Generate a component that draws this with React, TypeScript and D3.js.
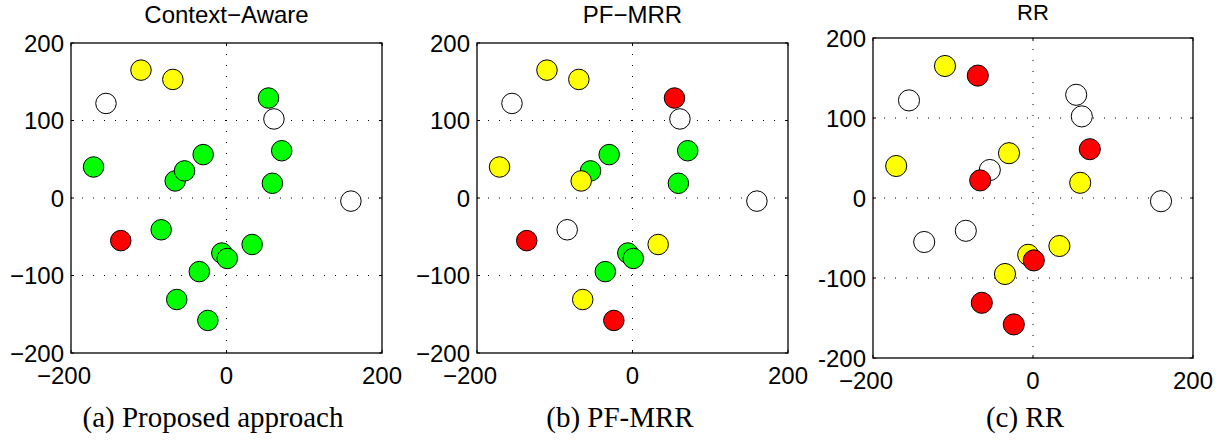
import React from 'react';
import * as d3 from 'd3';

// node positions (shared by all three panels)
const xs = [-110, -69, -155, 54, 61, 71, -30, -66, -54, -171, 59, 160, -84, -136, 33, -6, 1, -35, -64, -24];
const ys = [165, 153, 122, 129, 102, 61, 56, 22, 35, 40, 19, -4, -41, -55, -60, -71, -78, -95, -131, -158];

// colour class per node: W = white, G = green, Y = yellow, R = red
const classesA = ['Y', 'Y', 'W', 'G', 'W', 'G', 'G', 'G', 'G', 'G', 'G', 'W', 'G', 'R', 'G', 'G', 'G', 'G', 'G', 'G'];
const classesB = ['Y', 'Y', 'W', 'R', 'W', 'G', 'G', 'Y', 'G', 'Y', 'G', 'W', 'W', 'R', 'Y', 'G', 'G', 'G', 'Y', 'R'];
const classesC = ['Y', 'R', 'W', 'W', 'W', 'R', 'Y', 'R', 'W', 'Y', 'Y', 'W', 'W', 'W', 'Y', 'Y', 'R', 'Y', 'R', 'R'];

const titles = ['Context\u2212Aware', 'PF\u2212MRR', 'RR'];
const captions = ['(a) Proposed approach', '(b) PF-MRR', '(c) RR'];
const xTicks = [-200, 0, 200];
const yTicks = [-200, -100, 0, 100, 200];

const fills: Record<string, string> = { W: '#ffffff', G: '#00ff00', Y: '#ffff00', R: '#ff0000' };
const drawOrder = ['W', 'G', 'Y', 'R'];

const panels = [
  { classes: classesA, left: 71, top: 43, w: 311, h: 310, titleY: 23, titleSize: 24, capX: 213, minus: '\u2212' },
  { classes: classesB, left: 477, top: 43, w: 311, h: 310, titleY: 23, titleSize: 24, capX: 620, minus: '\u2212' },
  { classes: classesC, left: 873, top: 38, w: 320, h: 320, titleY: 20, titleSize: 22, capX: 1025, minus: '-' },
];

const sans = 'Liberation Sans, Arial, Helvetica, sans-serif';
const serif = 'Liberation Serif, Times New Roman, serif';
const FS = 24;

const Panel = ({ p, i }: { p: typeof panels[0]; i: number }) => {
  const x = d3.scaleLinear().domain([-200, 200]).range([p.left, p.left + p.w]);
  const y = d3.scaleLinear().domain([-200, 200]).range([p.top + p.h, p.top]);
  const r = p.w * 0.033;

  const idx = d3.range(xs.length).sort((a, b) => {
    const d = drawOrder.indexOf(p.classes[a]) - drawOrder.indexOf(p.classes[b]);
    return d !== 0 ? d : a - b;
  });

  const fmtY = (v: number) => (v < 0 ? p.minus + Math.abs(v) : String(v));

  return (
    <g>
      {/* grid */}
      {xTicks.filter(t => t > -200 && t < 200).map(t => (
        <line key={'gx' + t} x1={x(t)} x2={x(t)} y1={p.top} y2={p.top + p.h}
          stroke="#000" strokeWidth={1} strokeDasharray="1,10" />
      ))}
      {yTicks.filter(t => t > -200 && t < 200).map(t => (
        <line key={'gy' + t} x1={p.left} x2={p.left + p.w} y1={y(t)} y2={y(t)}
          stroke="#000" strokeWidth={1} strokeDasharray="1,10" />
      ))}
      {/* tick marks */}
      {xTicks.map(t => (
        <g key={'tx' + t}>
          <line x1={x(t)} x2={x(t)} y1={p.top + p.h} y2={p.top + p.h - 3} stroke="#000" />
          <line x1={x(t)} x2={x(t)} y1={p.top} y2={p.top + 3} stroke="#000" />
        </g>
      ))}
      {yTicks.map(t => (
        <g key={'ty' + t}>
          <line x1={p.left} x2={p.left + 3} y1={y(t)} y2={y(t)} stroke="#000" />
          <line x1={p.left + p.w} x2={p.left + p.w - 3} y1={y(t)} y2={y(t)} stroke="#000" />
        </g>
      ))}
      {/* nodes */}
      {idx.map(k => (
        <circle key={k} cx={x(xs[k])} cy={y(ys[k])} r={r}
          fill={fills[p.classes[k]]} stroke="#000" strokeWidth={1} />
      ))}
      <rect x={p.left} y={p.top} width={p.w} height={p.h} fill="none" stroke="#000" strokeWidth={1.3} />
      {/* tick labels */}
      {yTicks.map(t => (
        <text key={'ly' + t} x={p.left - 7} y={y(t)} dy="0.36em" textAnchor="end"
          fontFamily={sans} fontSize={FS}>{fmtY(t)}</text>
      ))}
      {xTicks.map(t => {
        // digits centred on the tick, minus sign hanging to the left
        const digits = String(Math.abs(t));
        const half = digits.length * 0.556 * FS / 2;
        return (
          <text key={'lx' + t} x={x(t) + half} y={p.top + p.h + 31} textAnchor="end"
            fontFamily={sans} fontSize={FS}>{(t < 0 ? '\u2212' : '') + digits}</text>
        );
      })}
      <text x={p.left + p.w / 2} y={p.titleY} textAnchor="middle" fontFamily={sans} fontSize={p.titleSize}>
        {titles[i]}
      </text>
      <text x={p.capX} y={427} textAnchor="middle" fontFamily={serif} fontSize={29}>
        {captions[i]}
      </text>
    </g>
  );
};

export default function App() {
  return (
    <svg width={1223} height={443} style={{ position: 'absolute', left: 0, top: 0, background: '#fff' }}>
      <rect width={1223} height={443} fill="#fff" />
      {panels.map((p, i) => <Panel key={i} p={p} i={i} />)}
    </svg>
  );
}
